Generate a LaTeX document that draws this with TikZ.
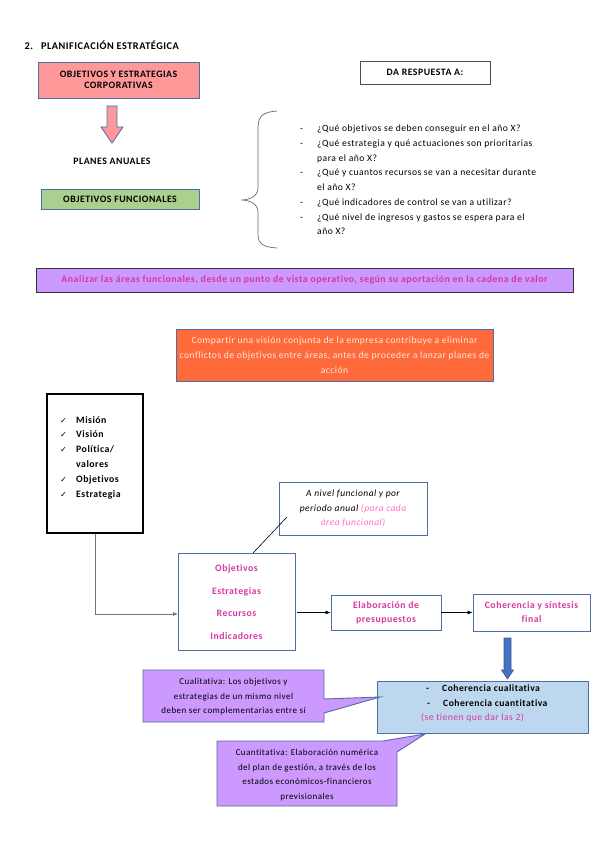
\documentclass[tikz,border=0pt]{standalone}
\usepackage{fontspec}
\setmainfont{Carlito}[LetterSpace=5, Ligatures=NoCommon]
\newfontfamily\symfont{DejaVu Sans}
\usetikzlibrary{arrows.meta}
\definecolor{boxblue}{RGB}{79,110,168}
\definecolor{corppink}{RGB}{255,153,153}
\definecolor{funcgreen}{RGB}{169,208,142}
\definecolor{lilac}{RGB}{204,153,255}
\definecolor{orangebox}{RGB}{255,106,58}
\definecolor{orangetext}{RGB}{255,232,222}
\definecolor{mag}{RGB}{214,58,160}
\definecolor{lightmag}{RGB}{255,110,200}
\definecolor{skyblue}{RGB}{189,215,238}
\definecolor{arrowblue}{RGB}{68,114,196}
\begin{document}
\begin{tikzpicture}[x=1pt,y=-1pt,
	box/.style={draw=boxblue, line width=0.9pt, align=center, inner sep=2pt},
	capsfont/.style={font=\fontsize{9.8}{11.5}\selectfont\bfseries},
	conn/.style={-{Latex[length=5pt,width=4pt]}, line width=0.6pt},
	callout/.style={draw=boxblue, line width=0.9pt, fill=lilac}]
	\useasboundingbox (0,0) rectangle (599,848);
	% title
	\node[anchor=west, font=\fontsize{10.3}{12}\selectfont\bfseries] (title) at (21,45) {2.\hspace{8pt}PLANIFICACIÓN ESTRATÉGICA};
	% corporate level
	\node[box, capsfont, fill=corppink, minimum width=161, minimum height=36] (corp) at (118.5,80) {OBJETIVOS Y ESTRATEGIAS\\CORPORATIVAS};
	\draw[draw=boxblue, line width=0.8pt, fill=corppink] (107,106) -- (117,106) -- (117,127) -- (123,127) -- (112,143) -- (101,127) -- (107,127) -- cycle;
	\node[capsfont] (planes) at (112,161) {PLANES ANUALES};
	\node[box, capsfont, fill=funcgreen, minimum width=158, minimum height=20] (func) at (120,199) {OBJETIVOS FUNCIONALES};
	% questions
	\node[draw=black!70, line width=0.9pt, capsfont, minimum width=130, minimum height=23] (resp) at (425,72.5) {DA RESPUESTA A:};
	\draw[black!60, line width=0.7pt] (277,111) .. controls (263,112) and (258,116) .. (258,128)
		-- (258,188) .. controls (258,196) and (250,200) .. (241,200)
		.. controls (250,200) and (258,204) .. (258,212)
		-- (258,234) .. controls (258,244) and (263,247) .. (277,248);
	\node[anchor=north west, align=left, inner sep=0pt, font=\fontsize{9.6}{14.7}\selectfont] (quest) at (300,125) {%
		\makebox[17pt][l]{-}¿Qué objetivos se deben conseguir en el año X?\\
		\makebox[17pt][l]{-}¿Qué estrategia y qué actuaciones son prioritarias\\
		\hspace*{17pt}para el año X?\\
		\makebox[17pt][l]{-}¿Qué y cuantos recursos se van a necesitar durante\\
		\hspace*{17pt}el año X?\\
		\makebox[17pt][l]{-}¿Qué indicadores de control se van a utilizar?\\
		\makebox[17pt][l]{-}¿Qué nivel de ingresos y gastos se espera para el\\
		\hspace*{17pt}año X?};
	% functional areas
	\node[draw=black!80, line width=1pt, fill=lilac, minimum width=537, minimum height=24, text=mag, font=\fontsize{9.9}{11}\selectfont\bfseries] (areas) at (304.5,280) {Analizar las áreas funcionales, desde un punto de vista operativo, según su aportación en la cadena de valor\hspace{12pt}};
	\node[box, fill=orangebox, text=orangetext, minimum width=317, minimum height=52, font=\fontsize{9.6}{15.3}\selectfont] (vision) at (334.5,355) {Compartir una visión conjunta de la empresa contribuye a eliminar\\conflictos de objetivos entre áreas, antes de proceder a lanzar planes de\\acción};
	% mission list
	\node[draw=black, line width=1.2pt, minimum width=96, minimum height=139] (mvv) at (95,463.5) {};
	\node[anchor=north west, align=left, inner sep=0pt, font=\fontsize{9.8}{14.8}\selectfont\bfseries] (mvvlist) at (60,416) {%
		\makebox[16pt][l]{\symfont\fontsize{8}{8}\selectfont ✓}Misión\\
		\makebox[16pt][l]{\symfont\fontsize{8}{8}\selectfont ✓}Visión\\
		\makebox[16pt][l]{\symfont\fontsize{8}{8}\selectfont ✓}Política/\\
		\hspace*{16pt}valores\\
		\makebox[16pt][l]{\symfont\fontsize{8}{8}\selectfont ✓}Objetivos\\
		\makebox[16pt][l]{\symfont\fontsize{8}{8}\selectfont ✓}Estrategia};
	% functional plan
	\node[box, minimum width=148, minimum height=53, font=\fontsize{9.5}{14.5}\selectfont\itshape] (nivel) at (353,508.5) {A nivel funcional y por\\periodo anual {\color{lightmag}(para cada}\\{\color{lightmag}área funcional)}};
	\node[box, minimum width=117, minimum height=97, text=mag, font=\fontsize{9.8}{22.5}\selectfont\bfseries] (obj) at (236.5,602) {Objetivos\\Estrategias\\Recursos\\Indicadores};
	\node[box, minimum width=110, minimum height=35, text=mag, font=\fontsize{9.8}{14}\selectfont\bfseries] (elab) at (386,612.5) {Elaboración de\\presupuestos};
	\node[box, minimum width=117, minimum height=37, text=mag, font=\fontsize{9.8}{14}\selectfont\bfseries] (coher) at (531.5,612.5) {Coherencia y síntesis\\final};
	\coordinate (objin) at (178,614);
	\coordinate (nivtail) at (287,517);
	\draw[black!55, line width=0.7pt, -{Latex[length=5pt,width=4pt]}] (mvv.south) |- (objin);
	\draw[line width=0.6pt] ([xshift=16.5pt]obj.north) -- (nivtail);
	\draw[conn] ([xshift=2pt]obj.east |- elab.west) -- (elab.west);
	\draw[conn] (elab.east) -- (coher.west);
	% coherence
	\draw[draw=boxblue!80!black, line width=0.6pt, fill=arrowblue] (504,638) -- (511,638) -- (511,670) -- (513.5,670) -- (507.5,679) -- (501.5,670) -- (504,670) -- cycle;
	\node[box, fill=skyblue, minimum width=211, minimum height=52] (cohtypes) at (482.5,707) {};
	\node[anchor=north west, align=left, inner sep=0pt, font=\fontsize{9.6}{14.5}\selectfont\bfseries] (cohlist) at (421,685) {%
		\hspace*{5pt}\makebox[16pt][l]{-}Coherencia cualitativa\\
		\hspace*{6pt}\makebox[16pt][l]{-}Coherencia cuantitativa\\
		{\mdseries\color{mag}(se tienen que dar las 2)}};
	% callouts
	\draw[callout] (143,670) -- (324,670) -- (324,699) -- (380,697) -- (324,713) -- (324,722) -- (143,722) -- cycle;
	\node[align=center, font=\fontsize{9}{14.5}\selectfont] (cuali) at (233.5,697) {Cualitativa: Los objetivos y\\estrategias de un mismo nivel\\deben ser complementarias entre sí};
	\draw[callout] (217,741) -- (383,741) -- (425,734) -- (397,752) -- (397,806) -- (217,806) -- cycle;
	\node[align=center, font=\fontsize{9}{14.7}\selectfont] (cuanti) at (307,775) {Cuantitativa: Elaboración numérica\\del plan de gestión, a través de los\\estados económicos-financieros\\previsionales};
\end{tikzpicture}
\end{document}
